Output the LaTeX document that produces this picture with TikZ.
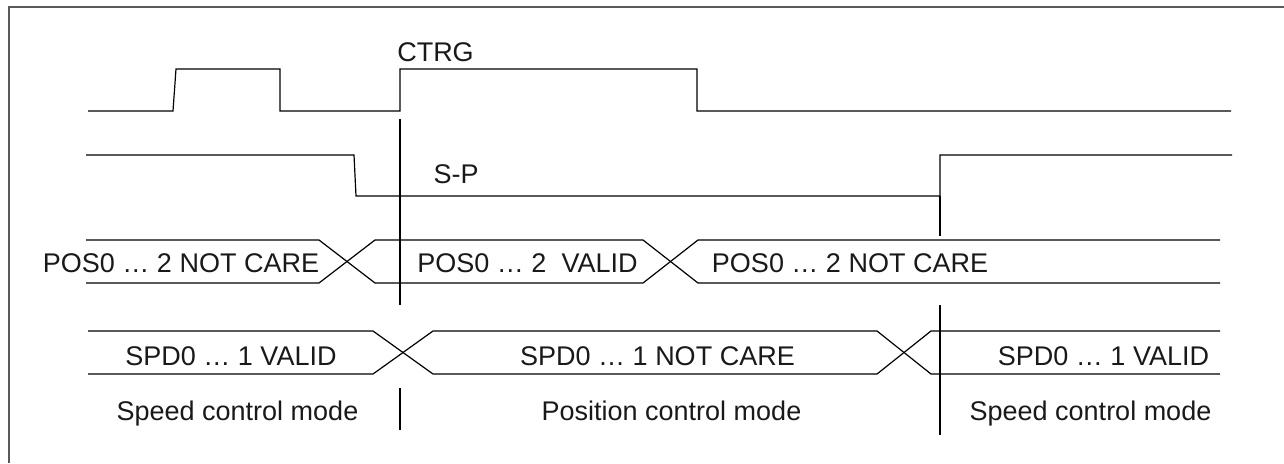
\documentclass[tikz,border=0pt]{standalone}
\usepackage{fontspec}
\setmainfont{Liberation Sans}
\begin{document}
\begin{tikzpicture}[x=1pt,y=-1pt,
  sig/.style={line width=1.2pt, black, line join=miter},
  vline/.style={line width=1.1pt, black},
  frameline/.style={line width=1.6pt, black!65},
  lbl/.style={inner sep=0pt, anchor=base, font=\fontsize{27}{32}\selectfont, text=black!90}]
\useasboundingbox (0,0) rectangle (1284,463);
% frame (left and top edges)
\draw[frameline] (9,463) -- (9,7) -- (1284,7);
% CTRG waveform
\draw[sig] (88,111) -- (173,111) -- (176,69) -- (280,69) -- (280,111) -- (400,111) -- (400,69) -- (697,69) -- (697,111) -- (1231,111);
\node[lbl] (ctrg) at (435.5,61) {CTRG};
% S-P waveform
\draw[sig] (86,155) -- (354,155) -- (356,196) -- (940,196) -- (940,155) -- (1232,155);
\node[lbl] (sp) at (456,183) {S-P};
% POS bus
\draw[sig] (86,240) -- (319,240) -- (375,283) -- (643,283) -- (698,240) -- (1220,240);
\draw[sig] (86,283) -- (319,283) -- (375,240) -- (643,240) -- (698,283) -- (1220,283);
\node[lbl] (pos1) at (181,272) {POS0 … 2 NOT CARE};
\node[lbl] (pos2) at (527.5,272) {POS0 … 2\ \ VALID};
\node[lbl] (pos3) at (850,272) {POS0 … 2 NOT CARE};
% SPD bus
\draw[sig] (88,331) -- (373,331) -- (433,374) -- (877,374) -- (931,331) -- (1220,331);
\draw[sig] (88,374) -- (373,374) -- (433,331) -- (877,331) -- (931,374) -- (1220,374);
\node[lbl] (spd1) at (231,365) {SPD0 … 1 VALID};
\node[lbl] (spd2) at (657.5,365) {SPD0 … 1 NOT CARE};
\node[lbl] (spd3) at (1103.5,365) {SPD0 … 1 VALID};
% mode labels
\node[lbl] (m1) at (237.5,420) {Speed control mode};
\node[lbl] (m2) at (671.5,420) {Position control mode};
\node[lbl] (m3) at (1090.5,420) {Speed control mode};
% vertical marker lines
\draw[vline] (400,119) -- (400,305);
\draw[vline] (400,388) -- (400,430);
\draw[vline] (940,196) -- (940,236);
\draw[vline] (940,305) -- (940,435);
\end{tikzpicture}
\end{document}
